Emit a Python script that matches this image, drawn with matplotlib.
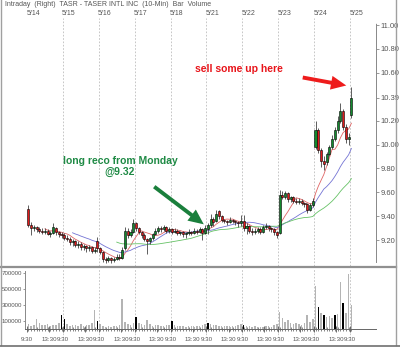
#!/usr/bin/env python3
import matplotlib

matplotlib.use("Agg")

import numpy as np
import pandas as pd
from matplotlib import pyplot as plt
from matplotlib.lines import Line2D
from matplotlib.patches import FancyArrowPatch

plt.rcParams["font.family"] = ["Liberation Sans", "DejaVu Sans"]

DAYS = ["5/14", "5/15", "5/16", "5/17", "5/18", "5/21", "5/22", "5/23", "5/24", "5/25"]
BARS_PER_DAY = 13
PRICE_TICKS = [9.20, 9.40, 9.60, 9.80, 10.00, 10.20, 10.39, 10.60, 10.80, 11.00]
VOLUME_TICKS = [100000, 300000, 500000, 700000]

# one row per trading day, last value is the first bar of 5/25
OPENS = [
    9.46, 9.33, 9.30, 9.31, 9.29, 9.28, 9.27, 9.28, 9.25, 9.26, 9.30, 9.27, 9.25,
    9.24, 9.22, 9.21, 9.18, 9.19, 9.16, 9.17, 9.14, 9.15, 9.13, 9.14, 9.11, 9.19,
    9.13, 9.10, 9.04, 9.03, 9.05, 9.03, 9.04, 9.06, 9.05, 9.13, 9.28, 9.24, 9.27,
    9.34, 9.30, 9.27, 9.24, 9.21, 9.19, 9.22, 9.25, 9.28, 9.30, 9.29, 9.31, 9.28,
    9.29, 9.27, 9.28, 9.26, 9.27, 9.25, 9.26, 9.27, 9.26, 9.28, 9.27, 9.29, 9.26,
    9.29, 9.33, 9.38, 9.36, 9.44, 9.40, 9.37, 9.36, 9.35, 9.37, 9.36, 9.35, 9.34,
    9.36, 9.30, 9.32, 9.28, 9.27, 9.28, 9.29, 9.27, 9.31, 9.32, 9.30, 9.29, 9.27,
    9.26, 9.58, 9.56, 9.59, 9.54, 9.56, 9.53, 9.52, 9.53, 9.51, 9.50, 9.45, 9.49,
    9.98, 10.12, 9.95, 9.86, 9.85, 9.92, 9.98, 10.05, 10.12, 10.20, 10.28, 10.15, 10.05,
    10.25,
]
HIGHS = [
    9.49, 9.35, 9.33, 9.32, 9.31, 9.30, 9.30, 9.29, 9.28, 9.34, 9.31, 9.28, 9.27,
    9.26, 9.24, 9.23, 9.21, 9.20, 9.19, 9.18, 9.17, 9.16, 9.16, 9.15, 9.14, 9.23,
    9.14, 9.11, 9.06, 9.07, 9.06, 9.06, 9.08, 9.08, 9.14, 9.31, 9.30, 9.29, 9.38,
    9.35, 9.31, 9.28, 9.26, 9.22, 9.23, 9.26, 9.30, 9.32, 9.32, 9.33, 9.32, 9.31,
    9.30, 9.30, 9.29, 9.28, 9.28, 9.27, 9.29, 9.28, 9.30, 9.29, 9.31, 9.30, 9.33,
    9.34, 9.42, 9.39, 9.45, 9.45, 9.41, 9.38, 9.37, 9.39, 9.38, 9.37, 9.36, 9.41,
    9.41, 9.34, 9.33, 9.30, 9.30, 9.31, 9.31, 9.33, 9.34, 9.33, 9.31, 9.30, 9.28,
    9.62, 9.61, 9.61, 9.60, 9.57, 9.57, 9.55, 9.55, 9.54, 9.52, 9.51, 9.51, 9.55,
    10.20, 10.14, 9.97, 9.90, 9.94, 10.00, 10.08, 10.15, 10.24, 10.35, 10.30, 10.17, 10.10,
    10.48,
]
LOWS = [
    9.31, 9.24, 9.28, 9.27, 9.26, 9.25, 9.25, 9.24, 9.23, 9.25, 9.24, 9.23, 9.22,
    9.20, 9.19, 9.16, 9.15, 9.14, 9.13, 9.12, 9.12, 9.10, 9.11, 9.09, 9.09, 9.10,
    9.08, 9.02, 9.01, 9.02, 9.01, 9.02, 9.03, 9.03, 9.04, 9.12, 9.22, 9.23, 9.26,
    9.28, 9.25, 9.22, 9.19, 9.08, 9.17, 9.20, 9.24, 9.26, 9.27, 9.28, 9.26, 9.26,
    9.25, 9.26, 9.24, 9.24, 9.23, 9.22, 9.24, 9.24, 9.25, 9.25, 9.26, 9.20, 9.25,
    9.25, 9.31, 9.32, 9.35, 9.38, 9.35, 9.34, 9.33, 9.34, 9.34, 9.33, 9.31, 9.32,
    9.28, 9.25, 9.26, 9.24, 9.25, 9.26, 9.25, 9.26, 9.29, 9.28, 9.27, 9.24, 9.22,
    9.25, 9.54, 9.54, 9.52, 9.52, 9.51, 9.50, 9.50, 9.49, 9.48, 9.43, 9.44, 9.48,
    9.96, 9.93, 9.81, 9.79, 9.83, 9.90, 9.96, 10.03, 10.10, 10.18, 10.12, 10.01, 10.00,
    10.22,
]
CLOSES = [
    9.33, 9.30, 9.31, 9.29, 9.28, 9.27, 9.28, 9.25, 9.26, 9.31, 9.27, 9.25, 9.24,
    9.22, 9.21, 9.18, 9.19, 9.16, 9.17, 9.14, 9.15, 9.13, 9.14, 9.11, 9.12, 9.13,
    9.10, 9.04, 9.03, 9.05, 9.03, 9.04, 9.06, 9.05, 9.12, 9.28, 9.24, 9.27, 9.34,
    9.30, 9.27, 9.24, 9.21, 9.19, 9.22, 9.25, 9.28, 9.30, 9.29, 9.31, 9.28, 9.29,
    9.27, 9.28, 9.26, 9.27, 9.25, 9.26, 9.27, 9.26, 9.28, 9.27, 9.29, 9.26, 9.30,
    9.33, 9.38, 9.35, 9.42, 9.40, 9.37, 9.36, 9.35, 9.37, 9.36, 9.35, 9.34, 9.36,
    9.30, 9.32, 9.28, 9.27, 9.28, 9.29, 9.27, 9.31, 9.32, 9.30, 9.29, 9.27, 9.24,
    9.58, 9.56, 9.59, 9.54, 9.56, 9.53, 9.52, 9.53, 9.51, 9.50, 9.45, 9.49, 9.53,
    10.12, 9.95, 9.86, 9.84, 9.92, 9.98, 10.05, 10.12, 10.20, 10.28, 10.15, 10.05, 10.06,
    10.39,
]
VOLUMES = [
    60000, 40000, 55000, 130000, 70000, 50000, 45000, 60000, 40000, 50000, 45000, 80000, 170000,
    120000, 60000, 40000, 45000, 50000, 35000, 60000, 40000, 50000, 45000, 70000, 240000, 100000,
    60000, 40000, 30000, 35000, 30000, 40000, 35000, 50000, 370000, 90000, 60000, 50000, 70000,
    150000, 80000, 60000, 50000, 110000, 60000, 40000, 45000, 50000, 35000, 40000, 45000, 50000,
    100000, 50000, 40000, 35000, 40000, 30000, 35000, 40000, 30000, 35000, 40000, 45000, 60000,
    70000, 60000, 45000, 50000, 40000, 35000, 40000, 35000, 30000, 35000, 40000, 45000, 60000,
    55000, 40000, 35000, 30000, 35000, 30000, 25000, 30000, 35000, 40000, 30000, 45000, 60000,
    210000, 140000, 90000, 110000, 70000, 60000, 80000, 60000, 55000, 70000, 170000, 90000, 120000,
    540000, 280000, 200000, 170000, 150000, 160000, 140000, 170000, 190000, 590000, 330000, 200000, 690000,
    300000,
]
DARK_VOLUME_BARS = [12, 13, 25, 39, 52, 65, 78, 105, 107, 111, 114]

GREY = "#555555"
UP = "#138a2e"
DOWN = "#e01b1b"


def fig_xy(x, y):
    # pixel position measured from the top left corner of the 400x349 picture
    return x / 400, 1 - y / 349


def main():
    opens = np.array(OPENS)
    highs = np.array(HIGHS)
    lows = np.array(LOWS)
    closes = np.array(CLOSES)
    idx = np.arange(len(closes))
    day_starts = [BARS_PER_DAY * k - 0.5 for k in range(len(DAYS))]
    xlim = (-1.22, 125.9)

    fig = plt.figure(figsize=(4.0, 3.49), dpi=100)
    fig.patch.set_facecolor("white")

    # price panel
    ax = fig.add_axes((0.0625, 0.2378, 0.8775, 0.7106))
    ax.set_xlim(*xlim)
    ax.set_ylim(8.983, 11.059)
    for x in day_starts[1:]:
        ax.axvline(x, color="#bdbdbd", lw=0.6, ls=(0, (2, 2)), zorder=0)

    series = pd.Series(closes)
    for window, color in ((7, "#e06565"), (17, "#7474d4"), (33, "#66c266")):
        ax.plot(idx, series.rolling(window).mean(), color=color, lw=0.6, zorder=2)

    up = closes >= opens
    ax.vlines(idx, lows, highs, color="#444444", lw=0.6, zorder=3)
    ax.bar(
        idx,
        np.maximum(np.abs(closes - opens), 0.006),
        bottom=np.minimum(opens, closes),
        width=0.75,
        color=np.where(up, UP, DOWN),
        edgecolor="black",
        linewidth=0.4,
        zorder=4,
    )

    for spine in ("top", "left", "bottom"):
        ax.spines[spine].set_visible(False)
    ax.spines["right"].set_bounds(9.02, 11.02)
    ax.spines["right"].set_linestyle((0, (1, 1)))
    ax.spines["right"].set_color("#888888")
    ax.spines["right"].set_linewidth(0.7)
    ax.yaxis.tick_right()
    ax.set_yticks(PRICE_TICKS, [f"{p:.2f}" for p in PRICE_TICKS])
    ax.tick_params(axis="y", length=2, width=0.6, color="#888888", labelsize=5.5,
                   labelcolor=GREY, pad=1.5)
    ax.set_xticks([])

    for k, day in enumerate(DAYS):
        ax.text(day_starts[k] + 2.2, 1.003, day, transform=ax.get_xaxis_transform(),
                ha="center", va="bottom", fontsize=5, color=GREY)

    # volume panel
    vax = fig.add_axes((0.0625, 0.0315, 0.8775, 0.2006))
    vax.set_xlim(*xlim)
    vax.set_ylim(-112500, 762500)
    for x in day_starts[1:]:
        vax.axvline(x, color="#bdbdbd", lw=0.6, ls=(0, (2, 2)), zorder=0)
    vcolors = ["black" if i in DARK_VOLUME_BARS else "#b4b4b4" for i in idx]
    vax.bar(idx, VOLUMES, width=0.55, color=vcolors, zorder=2)

    vax.spines["top"].set_visible(False)
    vax.spines["right"].set_visible(False)
    vax.spines["bottom"].set_position(("data", 0))
    vax.spines["bottom"].set_color("#666666")
    vax.spines["bottom"].set_linewidth(0.7)
    vax.spines["left"].set_bounds(0, 730000)
    vax.spines["left"].set_color("#888888")
    vax.spines["left"].set_linewidth(0.7)
    vax.set_yticks(VOLUME_TICKS, [str(v) for v in VOLUME_TICKS])
    vax.tick_params(axis="y", length=1.5, width=0.6, color="#888888", labelsize=4.4,
                    labelcolor=GREY, pad=0.5)

    major = []
    labels = []
    for k, start in enumerate(day_starts):
        major.append(start)
        labels.append("9:30")
        if k < len(DAYS) - 1:
            major.append(start + 8)
            labels.append("13:30")
    vax.set_xticks(major, labels)
    vax.set_xticks(idx, minor=True)
    vax.tick_params(axis="x", which="major", direction="inout", length=5, width=0.6,
                    color="#555555", labelsize=4.4, labelcolor=GREY, pad=3)
    vax.tick_params(axis="x", which="minor", direction="inout", length=2.5, width=0.5,
                    color="#555555")

    # header and annotations
    fig.text(*fig_xy(5, 5), "Intraday  (Right)  TASR - TASER INTL INC  (10-Min)  Bar  Volume",
             fontsize=5, color=GREY, va="center", ha="left")
    fig.text(*fig_xy(239, 69), "sell some up here", fontsize=7.5, fontweight="bold",
             color="#e8141a", ha="center", va="center")
    fig.text(*fig_xy(120, 161), "long reco from Monday", fontsize=7.5, fontweight="bold",
             color="#1f8a45", ha="center", va="center")
    fig.text(*fig_xy(120, 172), "@9.32", fontsize=7.5, fontweight="bold",
             color="#1f8a45", ha="center", va="center")

    arrow = "simple,head_length=1.1,head_width=1.0,tail_width=0.28"
    fig.add_artist(FancyArrowPatch(
        fig_xy(300, 77), fig_xy(349, 86), transform=fig.transFigure,
        arrowstyle=arrow, mutation_scale=10, color="#ee1c1c", lw=0))
    fig.add_artist(FancyArrowPatch(
        fig_xy(152, 185), fig_xy(206, 226), transform=fig.transFigure,
        arrowstyle=arrow, mutation_scale=10, color="#1a7f3c", lw=0))

    # window frame
    for (x0, y0), (x1, y1), width, color in (
        ((0, 266.5), (396, 266.5), 1.6, "#909090"),
        ((1, 0), (1, 345), 1.0, "#a0a0a0"),
        ((396, 0), (396, 345), 1.0, "#a0a0a0"),
        ((0, 345.5), (400, 345.5), 1.2, "#707070"),
    ):
        xa, ya = fig_xy(x0, y0)
        xb, yb = fig_xy(x1, y1)
        fig.add_artist(Line2D([xa, xb], [ya, yb], transform=fig.transFigure,
                              lw=width, color=color))

    fig.savefig("out.png", dpi=100)


if __name__ == "__main__":
    main()
